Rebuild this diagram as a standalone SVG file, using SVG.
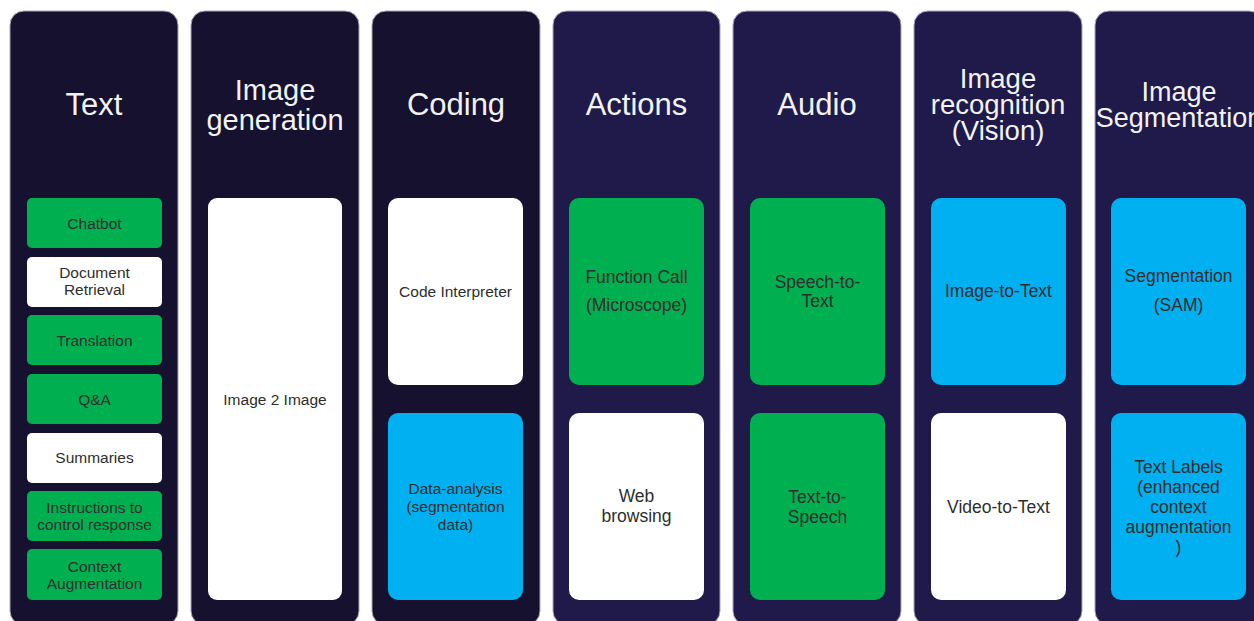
<svg xmlns="http://www.w3.org/2000/svg" width="1254" height="621" viewBox="0 0 1254 621">
<style>
.colA{fill:#15112f;stroke:#a9a7b6;stroke-width:1}
.colB{fill:#1f1a4a;stroke:#a9a7b6;stroke-width:1}
.title{font-family:"Liberation Sans",Arial,sans-serif;fill:#f2f2f2;text-anchor:middle}
.lbl{font-family:"Liberation Sans",Arial,sans-serif;fill:#2e2e2e;text-anchor:middle}
.g{fill:#00b050}
.w{fill:#ffffff}
.b{fill:#00b0f0}
</style>
<rect width="1254" height="621" fill="#ffffff"/>

<g id="col-text">
<rect class="colA" x="10" y="11" width="168" height="614" rx="14"/>
<text class="title" x="94" y="115" font-size="31">Text</text>
<rect class="g" x="27" y="198" width="135" height="50" rx="5"/>
<text class="lbl" x="94.5" y="229" font-size="15.5">Chatbot</text>
<rect class="w" x="27" y="257" width="135" height="50" rx="5"/>
<text class="lbl" x="94.5" y="278" font-size="15.5">Document</text>
<text class="lbl" x="94.5" y="295" font-size="15.5">Retrieval</text>
<rect class="g" x="27" y="315" width="135" height="50" rx="5"/>
<text class="lbl" x="94.5" y="346" font-size="15.5">Translation</text>
<rect class="g" x="27" y="374" width="135" height="50" rx="5"/>
<text class="lbl" x="94.5" y="405" font-size="15.5">Q&amp;A</text>
<rect class="w" x="27" y="433" width="135" height="50" rx="5"/>
<text class="lbl" x="94.5" y="463" font-size="15.5">Summaries</text>
<rect class="g" x="27" y="491" width="135" height="50" rx="5"/>
<text class="lbl" x="94.5" y="513" font-size="15.5">Instructions to</text>
<text class="lbl" x="94.5" y="530" font-size="15.5">control response</text>
<rect class="g" x="27" y="549" width="135" height="51" rx="5"/>
<text class="lbl" x="94.5" y="572" font-size="15.5">Context</text>
<text class="lbl" x="94.5" y="589" font-size="15.5">Augmentation</text>
</g>

<g id="col-imagegen">
<rect class="colA" x="191" y="11" width="168" height="614" rx="14"/>
<text class="title" x="275" y="100" font-size="29">Image</text>
<text class="title" x="275" y="130" font-size="29">generation</text>
<rect class="w" x="208" y="198" width="134" height="402" rx="9"/>
<text class="lbl" x="275" y="405" font-size="15.5">Image 2 Image</text>
</g>

<g id="col-coding">
<rect class="colA" x="372" y="11" width="168" height="614" rx="14"/>
<text class="title" x="456" y="115" font-size="31">Coding</text>
<rect class="w" x="388" y="198" width="135" height="187" rx="10"/>
<text class="lbl" x="455.5" y="297" font-size="15.5">Code Interpreter</text>
<rect class="b" x="388" y="413" width="135" height="187" rx="10"/>
<text class="lbl" x="455.5" y="494" font-size="15.5">Data-analysis</text>
<text class="lbl" x="455.5" y="512" font-size="15.5">(segmentation</text>
<text class="lbl" x="455.5" y="530" font-size="15.5">data)</text>
</g>

<g id="col-actions">
<rect class="colB" x="553" y="11" width="167" height="614" rx="14"/>
<text class="title" x="636.5" y="115" font-size="31">Actions</text>
<rect class="g" x="569" y="198" width="135" height="187" rx="10"/>
<text class="lbl" x="636.5" y="283" font-size="17.5">Function Call</text>
<text class="lbl" x="636.5" y="311" font-size="17.5">(Microscope)</text>
<rect class="w" x="569" y="413" width="135" height="187" rx="10"/>
<text class="lbl" x="636.5" y="502" font-size="17.5">Web</text>
<text class="lbl" x="636.5" y="522" font-size="17.5">browsing</text>
</g>

<g id="col-audio">
<rect class="colB" x="733" y="11" width="168" height="614" rx="14"/>
<text class="title" x="817" y="115" font-size="31">Audio</text>
<rect class="g" x="750" y="198" width="135" height="187" rx="10"/>
<text class="lbl" x="817.5" y="288" font-size="17.5">Speech-to-</text>
<text class="lbl" x="817.5" y="307" font-size="17.5">Text</text>
<rect class="g" x="750" y="413" width="135" height="187" rx="10"/>
<text class="lbl" x="817.5" y="503" font-size="17.5">Text-to-</text>
<text class="lbl" x="817.5" y="523" font-size="17.5">Speech</text>
</g>

<g id="col-vision">
<rect class="colB" x="914" y="11" width="168" height="614" rx="14"/>
<text class="title" x="998" y="88" font-size="27.5">Image</text>
<text class="title" x="998" y="114" font-size="27.5">recognition</text>
<text class="title" x="998" y="140" font-size="27.5">(Vision)</text>
<rect class="b" x="931" y="198" width="135" height="187" rx="10"/>
<text class="lbl" x="998.5" y="297" font-size="17.5">Image-to-Text</text>
<rect class="w" x="931" y="413" width="135" height="187" rx="10"/>
<text class="lbl" x="998.5" y="513" font-size="17.5">Video-to-Text</text>
</g>

<g id="col-segmentation">
<rect class="colB" x="1095" y="11" width="168" height="614" rx="14"/>
<text class="title" x="1179" y="101" font-size="27">Image</text>
<text class="title" x="1179" y="127" font-size="27">Segmentation</text>
<rect class="b" x="1111" y="198" width="135" height="187" rx="10"/>
<text class="lbl" x="1178.5" y="282" font-size="17.5">Segmentation</text>
<text class="lbl" x="1178.5" y="311" font-size="17.5">(SAM)</text>
<rect class="b" x="1111" y="413" width="135" height="187" rx="10"/>
<text class="lbl" x="1178.5" y="473" font-size="17.5">Text Labels</text>
<text class="lbl" x="1178.5" y="493" font-size="17.5">(enhanced</text>
<text class="lbl" x="1178.5" y="513" font-size="17.5">context</text>
<text class="lbl" x="1178.5" y="533" font-size="17.5">augmentation</text>
<text class="lbl" x="1178.5" y="553" font-size="17.5">)</text>
</g>

<g id="connectors"></g>
</svg>
